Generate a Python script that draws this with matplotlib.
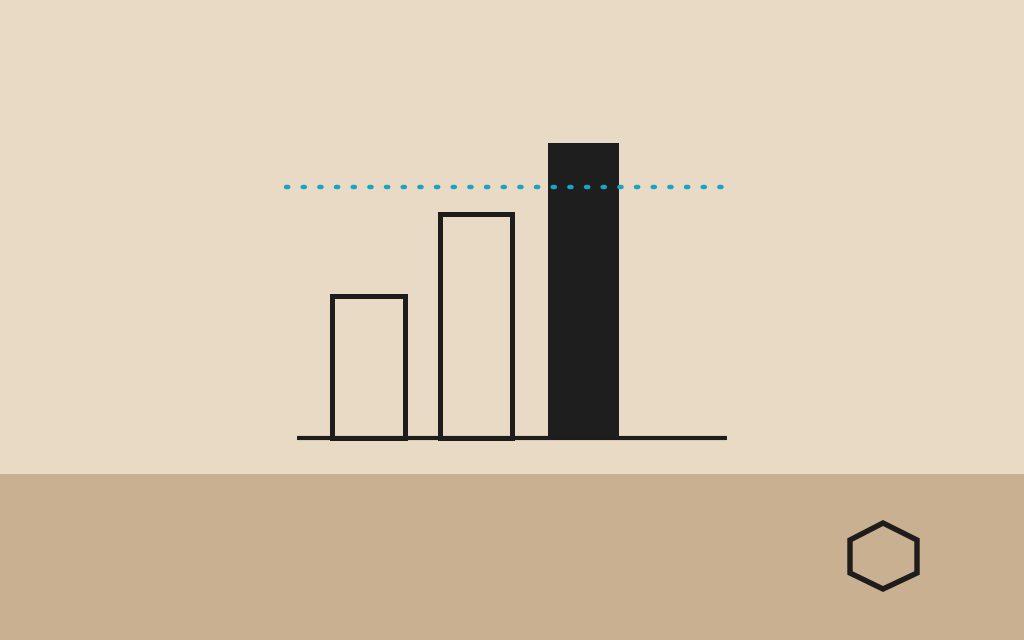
import matplotlib
matplotlib.use("Agg")
import matplotlib.pyplot as plt
from matplotlib.patches import Polygon, Rectangle

# chart data
categories = ["A", "B", "C"]
values = [48, 76, 100]
highlight = [False, False, True]
target = 85

ink = "#1f1d1b"
teal = "#1aa3c4"
bg_top = "#e9dac6"
bg_bottom = "#c8b090"

fig = plt.figure(figsize=(10.24, 6.4), dpi=100)
fig.patch.set_facecolor(bg_top)

# lower band
fig.patches.append(Rectangle((0, 0), 1, (640 - 474) / 640, transform=fig.transFigure,
                             facecolor=bg_bottom, edgecolor="none", zorder=0))

# bar chart axes (placed in pixel terms)
x0, x1 = 282.5, 734.0
ytop, ybase = 113.5, 438.0
ax = fig.add_axes([x0 / 1024, (640 - ybase) / 640, (x1 - x0) / 1024, (ybase - ytop) / 640])
ax.set_xlim(-0.8, 3.4)
ax.set_ylim(0, 110)
ax.axis("off")

xs = list(range(len(categories)))
for x, v, h in zip(xs, values, highlight):
    if h:
        ax.bar(x, v, width=0.66, color="#1e1e1e", edgecolor="none", zorder=3)
    else:
        ax.bar(x, v, width=0.67, fill=False, edgecolor=ink, linewidth=3.6,
               joinstyle="miter", zorder=3, clip_on=False)

# baseline
ax.plot([-0.665, 3.335], [0, 0], color=ink, linewidth=3.0, solid_capstyle="butt",
        zorder=4, clip_on=False)

# target line (dotted)
ax.plot([-0.765, 3.29], [target, target], color=teal, linewidth=3.2,
        dashes=(0.5, 3.25), dash_capstyle="round", zorder=5)

# hexagon badge
hex_pts = [(883, 523), (917, 540), (917, 573), (883, 589), (850, 573), (850, 540)]
hx = [(px / 1024, 1 - py / 640) for px, py in hex_pts]
fig.patches.append(Polygon(hx, closed=True, transform=fig.transFigure, fill=False,
                           edgecolor=ink, linewidth=3.9, joinstyle="miter", zorder=2))

fig.savefig("out.png", dpi=100, facecolor=fig.get_facecolor())
